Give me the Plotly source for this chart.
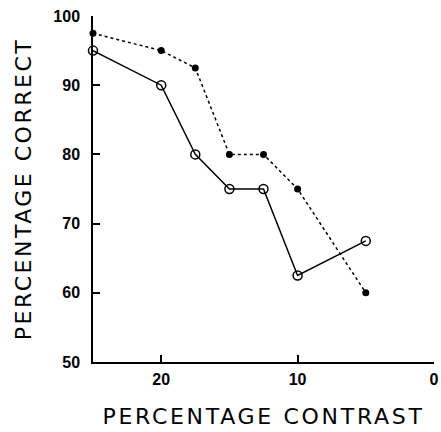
import plotly.graph_objects as go

contrast = [25, 20, 17.5, 15, 12.5, 10, 5]
filled_pct = [97.5, 95, 92.5, 80, 80, 75, 60]
open_pct = [95, 90, 80, 75, 75, 62.5, 67.5]
x_ticks = [0, 10, 20]
y_ticks = [50, 60, 70, 80, 90, 100]

fig = go.Figure()
fig.add_trace(go.Scatter(
    x=contrast, y=filled_pct, mode="lines+markers",
    line=dict(color="black", width=1.5, dash="dot"),
    marker=dict(symbol="circle", size=7, color="black"),
    cliponaxis=False, showlegend=False))
fig.add_trace(go.Scatter(
    x=contrast, y=open_pct, mode="lines+markers",
    line=dict(color="black", width=1.5),
    marker=dict(symbol="circle-open", size=9, color="black", line=dict(width=1.5)),
    cliponaxis=False, showlegend=False))

axis_font = dict(family="Liberation Sans, Arial, sans-serif", size=16, color="black", weight="bold")
title_font = dict(family="DejaVu Sans, sans-serif", size=22, color="black")

fig.update_layout(
    width=441, height=432,
    margin=dict(l=93, r=2, t=16, b=70),
    plot_bgcolor="white", paper_bgcolor="white",
    xaxis=dict(
        range=[25, 0], tickvals=x_ticks, ticks="inside", ticklen=7, tickwidth=1.5,
        tickcolor="black", showline=True, linecolor="black", linewidth=1.5,
        showgrid=False, zeroline=False, tickfont=axis_font,
        ticklabeloverflow="allow", ticklabelstandoff=2,
        title=dict(text='<span style="letter-spacing:2.7px">PERCENTAGE CONTRAST</span>',
                   font=title_font, standoff=22)),
    yaxis=dict(
        range=[50, 100], tickvals=y_ticks, ticks="inside", ticklen=7, tickwidth=1.5,
        tickcolor="black", showline=True, linecolor="black", linewidth=1.5,
        showgrid=False, zeroline=False, tickfont=axis_font,
        ticklabeloverflow="allow", ticklabelstandoff=8,
        title=dict(text='<span style="letter-spacing:2.5px">PERCENTAGE CORRECT</span>',
                   font=title_font, standoff=16)),
)
fig.write_html("out.html")
